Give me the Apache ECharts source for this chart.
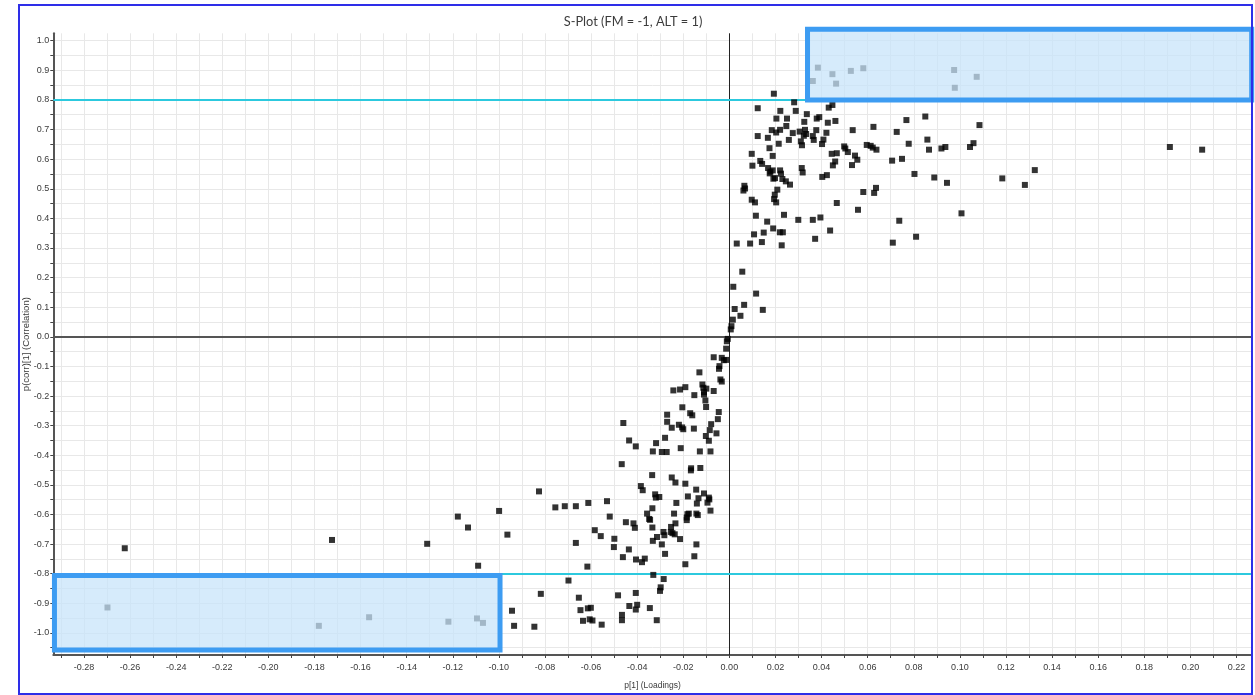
<!DOCTYPE html>
<html><head><meta charset="utf-8">
<script src="https://cdn.jsdelivr.net/npm/echarts@6/dist/echarts.min.js"></script>
<style>html,body{margin:0;padding:0;background:#fff}#c{width:1255px;height:695px}</style>
</head><body><div id="c"></div>
<script>
const titleText = 'S-Plot (FM = -1, ALT = 1)';
const xName = 'p[1] (Loadings)';
const yName = 'p(corr)[1] (Correlation)';
const xLabelValues = [-0.28,-0.26,-0.24,-0.22,-0.20,-0.18,-0.16,-0.14,-0.12,-0.10,-0.08,-0.06,-0.04,-0.02,0.00,0.02,0.04,0.06,0.08,0.10,0.12,0.14,0.16,0.18,0.20,0.22];
const yLabelValues = [-1.0,-0.9,-0.8,-0.7,-0.6,-0.5,-0.4,-0.3,-0.2,-0.1,0.0,0.1,0.2,0.3,0.4,0.5,0.6,0.7,0.8,0.9,1.0];
const cutoffLines = [0.8, -0.8];

const upperPoints = [[0.0193,0.821],[0.0281,0.792],[0.0123,0.772],[0.0221,0.763],[0.0288,0.763],[0.0336,0.752],[0.0431,0.774],[0.0447,0.783],[0.0204,0.737],[0.0250,0.737],[0.0379,0.737],[0.0390,0.742],[0.0325,0.726],[0.0427,0.723],[0.0460,0.729],[0.0247,0.712],[0.0184,0.698],[0.0203,0.690],[0.0220,0.699],[0.0305,0.693],[0.0328,0.699],[0.0333,0.685],[0.0323,0.679],[0.0377,0.698],[0.0362,0.678],[0.0366,0.665],[0.0421,0.689],[0.0275,0.688],[0.0123,0.678],[0.0167,0.672],[0.0258,0.665],[0.0214,0.652],[0.0310,0.660],[0.0315,0.647],[0.0408,0.666],[0.0402,0.651],[0.0535,0.698],[0.0625,0.709],[0.0768,0.732],[0.0850,0.744],[0.0726,0.692],[0.0859,0.666],[0.0778,0.652],[0.0174,0.637],[0.0097,0.618],[0.0188,0.611],[0.0498,0.643],[0.0503,0.636],[0.0514,0.624],[0.0596,0.648],[0.0613,0.645],[0.0622,0.639],[0.0638,0.632],[0.0444,0.618],[0.0466,0.620],[0.0545,0.612],[0.0555,0.598],[0.0459,0.592],[0.0449,0.579],[0.0532,0.580],[0.0866,0.632],[0.0920,0.636],[0.0937,0.641],[0.0706,0.595],[0.0749,0.601],[0.0134,0.594],[0.0142,0.584],[0.0100,0.578],[0.0168,0.570],[0.0178,0.558],[0.0188,0.562],[0.0175,0.552],[0.0198,0.536],[0.0191,0.534],[0.0220,0.562],[0.0224,0.551],[0.0230,0.533],[0.0245,0.525],[0.0263,0.514],[0.0314,0.570],[0.0318,0.555],[0.0403,0.540],[0.0423,0.546],[0.0803,0.550],[0.0889,0.538],[0.0944,0.520],[0.0065,0.510],[0.0061,0.494],[0.0068,0.501],[0.0208,0.497],[0.0197,0.480],[0.0097,0.463],[0.0111,0.454],[0.0194,0.465],[0.0203,0.454],[0.0581,0.489],[0.0636,0.503],[0.0628,0.486],[0.0466,0.452],[0.0558,0.429],[0.0115,0.409],[0.0237,0.412],[0.0164,0.389],[0.0299,0.395],[0.0362,0.395],[0.0395,0.403],[0.0737,0.392],[0.0190,0.366],[0.0107,0.346],[0.0149,0.352],[0.0219,0.353],[0.0232,0.353],[0.0437,0.359],[0.0372,0.331],[0.0810,0.338],[0.0032,0.315],[0.0090,0.315],[0.0141,0.320],[0.0227,0.309],[0.0709,0.318],[0.1044,0.641],[0.1059,0.654],[0.1085,0.715],[0.1184,0.535],[0.1282,0.513],[0.1325,0.563],[0.1007,0.417],[0.1911,0.641],[0.2051,0.632],[0.0056,0.220],[0.0017,0.169],[0.0116,0.146],[0.0023,0.094],[0.0064,0.108],[0.0048,0.071],[0.0145,0.091],[0.0015,0.058],[0.0009,0.036],[0.0006,0.025]];

const lowerPoints = [[-0.0007,-0.007],[-0.0011,-0.015],[-0.0014,-0.040],[-0.0068,-0.069],[-0.0033,-0.071],[-0.0024,-0.079],[-0.0014,-0.078],[-0.0043,-0.099],[-0.0045,-0.108],[-0.0130,-0.120],[-0.0039,-0.144],[-0.0033,-0.151],[-0.0117,-0.161],[-0.0113,-0.172],[-0.0100,-0.175],[-0.0068,-0.183],[-0.0110,-0.187],[-0.0110,-0.195],[-0.0243,-0.181],[-0.0214,-0.178],[-0.0191,-0.170],[-0.0152,-0.197],[-0.0104,-0.215],[-0.0101,-0.237],[-0.0204,-0.238],[-0.0270,-0.263],[-0.0270,-0.287],[-0.0170,-0.258],[-0.0161,-0.265],[-0.0046,-0.254],[-0.0050,-0.278],[-0.0250,-0.307],[-0.0219,-0.297],[-0.0205,-0.306],[-0.0200,-0.312],[-0.0154,-0.310],[-0.0079,-0.295],[-0.0085,-0.315],[-0.0056,-0.326],[-0.0102,-0.335],[-0.0089,-0.351],[-0.0460,-0.291],[-0.0435,-0.350],[-0.0406,-0.370],[-0.0279,-0.341],[-0.0318,-0.359],[-0.0332,-0.387],[-0.0293,-0.389],[-0.0272,-0.389],[-0.0211,-0.376],[-0.0128,-0.387],[-0.0082,-0.387],[-0.0467,-0.430],[-0.0166,-0.444],[-0.0167,-0.451],[-0.0126,-0.443],[-0.0335,-0.467],[-0.0250,-0.475],[-0.0234,-0.492],[-0.0191,-0.496],[-0.0384,-0.504],[-0.0376,-0.518],[-0.0322,-0.532],[-0.0319,-0.543],[-0.0304,-0.541],[-0.0180,-0.539],[-0.0144,-0.516],[-0.0110,-0.529],[-0.0089,-0.543],[-0.0087,-0.549],[-0.0095,-0.560],[-0.0134,-0.545],[-0.0141,-0.563],[-0.0230,-0.561],[-0.0334,-0.579],[-0.0082,-0.587],[-0.0143,-0.597],[-0.0137,-0.602],[-0.0182,-0.599],[-0.0176,-0.597],[-0.0185,-0.610],[-0.0185,-0.619],[-0.0240,-0.597],[-0.0357,-0.597],[-0.0348,-0.615],[-0.0344,-0.618],[-0.0234,-0.630],[-0.0253,-0.642],[-0.0254,-0.659],[-0.0247,-0.663],[-0.0237,-0.667],[-0.0286,-0.659],[-0.0282,-0.670],[-0.0334,-0.644],[-0.0314,-0.676],[-0.0332,-0.689],[-0.0214,-0.683],[-0.0293,-0.701],[-0.0279,-0.733],[-0.0143,-0.701],[-0.0152,-0.741],[-0.0191,-0.768],[-0.0449,-0.626],[-0.0416,-0.630],[-0.0410,-0.645],[-0.0519,-0.607],[-0.0531,-0.555],[-0.0612,-0.561],[-0.0666,-0.572],[-0.0714,-0.572],[-0.0584,-0.653],[-0.0558,-0.673],[-0.0499,-0.682],[-0.0501,-0.710],[-0.0436,-0.718],[-0.0462,-0.744],[-0.0666,-0.696],[-0.0616,-0.776],[-0.0405,-0.752],[-0.0379,-0.761],[-0.0367,-0.749],[-0.0330,-0.804],[-0.0285,-0.818],[-0.0698,-0.823],[-0.0298,-0.846],[-0.0301,-0.858],[-0.0406,-0.865],[-0.0483,-0.873],[-0.0653,-0.881],[-0.0434,-0.909],[-0.0400,-0.905],[-0.0406,-0.921],[-0.0345,-0.916],[-0.0614,-0.917],[-0.0601,-0.915],[-0.0646,-0.923],[-0.0466,-0.939],[-0.0466,-0.957],[-0.0315,-0.957],[-0.0635,-0.959],[-0.0606,-0.954],[-0.0594,-0.958],[-0.0554,-0.972]];

const leftPoints = [[-0.2623,-0.714],[-0.1724,-0.686],[-0.1311,-0.699],[-0.1178,-0.607],[-0.1134,-0.644],[-0.1090,-0.773],[-0.0999,-0.588],[-0.0963,-0.668],[-0.0826,-0.522],[-0.0755,-0.576],[-0.0818,-0.868],[-0.0943,-0.925],[-0.0934,-0.976],[-0.0846,-0.979]];

const topBoxPoints = [[0.0384,0.909],[0.0447,0.887],[0.0362,0.864],[0.0463,0.855],[0.0527,0.898],[0.0581,0.907],[0.0975,0.901],[0.0978,0.841],[0.1073,0.878]];
const bottomBoxPoints = [[-0.2698,-0.914],[-0.1781,-0.976],[-0.1563,-0.947],[-0.1219,-0.962],[-0.1095,-0.951],[-0.1069,-0.966]];

const xRange = [-0.2933, 0.2266];
const yRange = [-1.0745, 1.025];
// highlight boxes: [x1, y1, x2, y2] in data units
const highlightBoxes = [[0.0339, 0.800, 0.2266, 1.039], [-0.2928, -0.806, -0.0995, -1.058]];

const xTicks = []; for (let i = -29; i <= 22; i++) xTicks.push(i / 100);
const yTicks = []; for (let i = -21; i <= 20; i++) yTicks.push(i / 20);

const allPoints = upperPoints.concat(lowerPoints, leftPoints, topBoxPoints, bottomBoxPoints);

const chart = echarts.init(document.getElementById('c'), null, {renderer: 'canvas'});
const axisFont = {fontFamily: 'Liberation Sans, Arial, sans-serif', fontSize: 9, color: '#3a3a3a'};
chart.setOption({
  animation: false,
  backgroundColor: '#fff',
  title: {
    text: titleText, left: 628, top: 10, textAlign: 'center',
    textStyle: {fontFamily: 'Lato', fontSize: 12.8, fontWeight: 'normal', color: '#3c3c3c'}
  },
  graphic: [{
    type: 'rect', silent: true, z: 100,
    shape: {x: 19, y: 5, width: 1233, height: 689},
    style: {fill: 'none', stroke: '#2e2ee8', lineWidth: 2}
  }],
  grid: {left: 53.3, right: 3.3, top: 33.3, bottom: 39},
  xAxis: {
    type: 'value', min: xRange[0], max: xRange[1],
    name: xName, nameLocation: 'middle', nameGap: 26,
    nameTextStyle: {fontFamily: 'Liberation Sans, Arial, sans-serif', fontSize: 8.5, color: '#3a3a3a'},
    axisLine: {onZero: false, lineStyle: {color: '#555', width: 2}},
    axisTick: {show: true, length: 3, customValues: xTicks, lineStyle: {color: '#444'}},
    axisLabel: Object.assign({customValues: xLabelValues, margin: 8, formatter: v => v.toFixed(2)}, axisFont),
    splitLine: {show: true, lineStyle: {color: '#e8e8e8', width: 1}}
  },
  yAxis: {
    type: 'value', min: yRange[0], max: yRange[1],
    name: yName, nameLocation: 'middle', nameGap: 22, nameMoveOverlap: false,
    nameTextStyle: {fontFamily: 'Liberation Sans, Arial, sans-serif', fontSize: 9.5, color: '#3a3a3a'},
    axisLine: {onZero: false, lineStyle: {color: '#555', width: 2}},
    axisTick: {show: true, length: 3, customValues: yTicks, lineStyle: {color: '#444'}},
    axisLabel: Object.assign({customValues: yLabelValues, margin: 4, formatter: v => v.toFixed(1)}, axisFont),
    splitLine: {show: true, lineStyle: {color: '#e8e8e8', width: 1}}
  },
  series: [
    {
      type: 'scatter', name: 'variables', data: allPoints, symbol: 'rect', symbolSize: 6,
      itemStyle: {color: '#000'}, z: 3, silent: true,
      markLine: {
        silent: true, symbol: 'none', label: {show: false}, z: 2,
        data: [
          {xAxis: 0, lineStyle: {color: '#222', width: 1, type: 'solid'}},
          {yAxis: 0, lineStyle: {color: '#555', width: 2, type: 'solid'}},
          {yAxis: cutoffLines[0], lineStyle: {color: '#2cc9de', width: 2, type: 'solid'}},
          {yAxis: cutoffLines[1], lineStyle: {color: '#2cc9de', width: 2, type: 'solid'}}
        ]
      }
    },
    {
      type: 'custom', name: 'boxes', data: highlightBoxes, z: 10, clip: false, silent: true,
      encode: {x: [0, 2], y: [1, 3]},
      renderItem: function (params, api) {
        const p1 = api.coord([api.value(0), api.value(1)]);
        const p2 = api.coord([api.value(2), api.value(3)]);
        return {
          type: 'rect',
          shape: {x: Math.min(p1[0], p2[0]), y: Math.min(p1[1], p2[1]),
                  width: Math.abs(p2[0] - p1[0]), height: Math.abs(p2[1] - p1[1])},
          style: {fill: 'rgba(200,228,250,0.75)', stroke: '#3d9cf2', lineWidth: 5}
        };
      }
    }
  ]
});
</script>
</body></html>
